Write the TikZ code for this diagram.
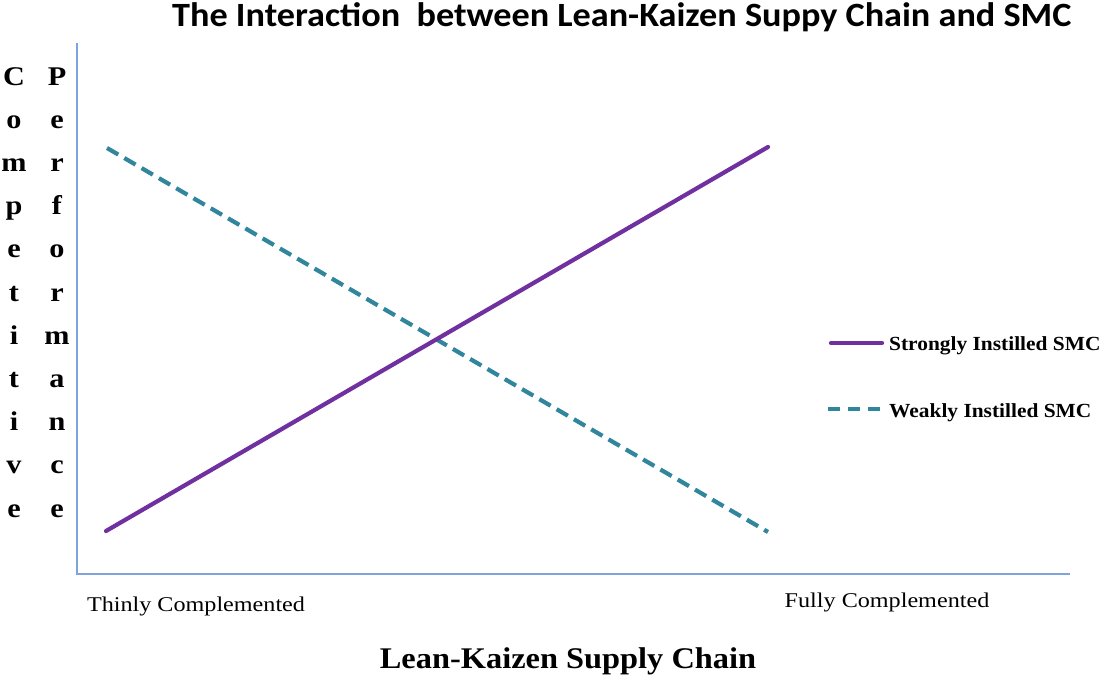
\documentclass[tikz,border=0pt]{standalone}
\usepackage{fontspec}
\setmainfont{Liberation Serif}
\newfontfamily\titlefont{Carlito}
\newcommand\stretchx[2]{\scalebox{#1}[1]{#2}}
\definecolor{axisblue}{HTML}{7FA3DC}
\definecolor{strongpurple}{HTML}{7030A0}
\definecolor{weakteal}{HTML}{31859C}
\begin{document}
\begin{tikzpicture}[x=1pt,y=-1pt,
  axis/.style={draw=axisblue, line width=1.6pt},
  strongline/.style={draw=strongpurple, line width=4.2pt, line cap=round},
  weakline/.style={draw=weakteal, line width=4.2pt, dash pattern=on 13pt off 7pt},
  lbl/.style={inner sep=0pt, anchor=base, font=\fontsize{21}{24}\selectfont},
  legendlbl/.style={inner sep=0pt, anchor=base west, font=\bfseries\fontsize{20}{24}\selectfont},
  vletter/.style={inner sep=0pt, anchor=base, font=\bfseries\fontsize{27}{30}\selectfont}
]
\useasboundingbox (0,0) rectangle (1113,677);
% title
\node[inner sep=0pt, anchor=base west] (title) at (172,27) {\titlefont\bfseries\fontsize{34}{38}\selectfont\stretchx{1.065}{The Interaction\ \ between Lean-Kaizen Suppy Chain and SMC}};
% axes
\coordinate (otop) at (77,43);
\coordinate (origin) at (77,574);
\coordinate (xend) at (1070,574);
\draw[axis] (otop) -- (origin) -- (xend);
% vertical axis labels
\foreach \l [count=\i] in {C,o,m,p,e,t,i,t,i,v,e}
  \node[vletter] (c\i) at (14,{85+43.2*(\i-1)}) {\stretchx{1.12}{\l}};
\foreach \l [count=\i] in {P,e,r,f,o,r,m,a,n,c,e}
  \node[vletter] (p\i) at (57,{85+43.2*(\i-1)}) {\stretchx{1.12}{\l}};
% data lines
\coordinate (s1) at (106,531);
\coordinate (s2) at (768,147);
\coordinate (w1) at (107,148);
\coordinate (w2) at (768,532);
\draw[weakline] (w1) -- (w2);
\draw[strongline] (s1) -- (s2);
% legend
\coordinate (ls1) at (831,343);
\coordinate (ls2) at (882,343);
\coordinate (lw1) at (828,409);
\coordinate (lw2) at (880,409);
\draw[strongline] (ls1) -- (ls2);
\draw[weakline, dash pattern=on 12pt off 8pt] (lw1) -- (lw2);
\node[legendlbl] (lgs) at (889,350) {\stretchx{1.07}{Strongly Instilled SMC}};
\node[legendlbl] (lgw) at (889,417) {\stretchx{1.07}{Weakly Instilled SMC}};
% x labels
\node[lbl] (thin) at (196,611) {\stretchx{1.15}{Thinly Complemented}};
\node[lbl] (full) at (887,607) {\stretchx{1.15}{Fully Complemented}};
\node[inner sep=0pt, anchor=base, font=\bfseries\fontsize{30}{34}\selectfont] (xtitle) at (568,668) {\stretchx{1.08}{Lean-Kaizen Supply Chain}};
\end{tikzpicture}
\end{document}
